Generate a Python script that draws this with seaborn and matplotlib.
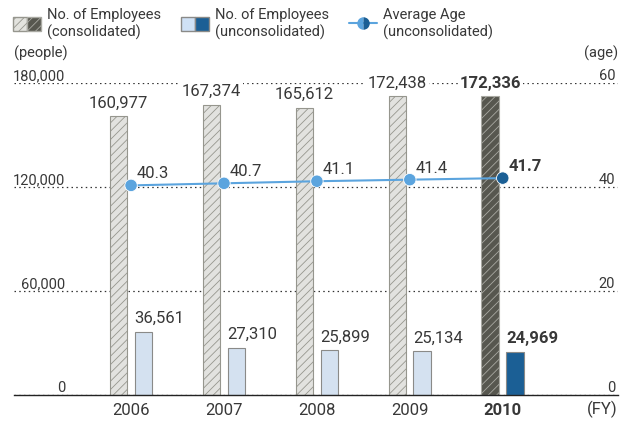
import numpy as np
import pandas as pd
import matplotlib.pyplot as plt
import seaborn as sns
from matplotlib.patches import Patch
from matplotlib.lines import Line2D
from matplotlib.legend_handler import HandlerTuple

# ---- data ----
years = ["2006", "2007", "2008", "2009", "2010"]
consolidated = [160977, 167374, 165612, 172438, 172336]
unconsolidated = [36561, 27310, 25899, 25134, 24969]
avg_age = [40.3, 40.7, 41.1, 41.4, 41.7]
people_ticks = [0, 60000, 120000, 180000]
age_ticks = [0, 20, 40, 60]

TXT = '#383838'
LIGHT_GRAY = '#e3e3de'
DARK_GRAY = '#57574f'
LIGHT_BLUE = '#cfe1f5'
DARK_BLUE = '#1b5f95'
LINE_BLUE = '#5ba4de'

sns.set_style('white')
plt.rcParams['font.family'] = ['Roboto', 'DejaVu Sans']
plt.rcParams['hatch.linewidth'] = 0.6

df = pd.DataFrame({
    'year': years * 2,
    'kind': ['cons'] * 5 + ['uncons'] * 5,
    'value': consolidated + unconsolidated,
})

fig = plt.figure(figsize=(6.28, 4.21), dpi=100)
ax = fig.add_axes([0.0223, 0.0618, 0.9617, 0.7412])

sns.barplot(data=df, x='year', y='value', hue='kind', order=years,
            palette=[LIGHT_GRAY, LIGHT_BLUE], width=0.536, gap=0.29,
            legend=False, ax=ax)

cons_bars = ax.containers[0]
uncons_bars = ax.containers[1]
for i, p in enumerate(cons_bars):
    p.set_hatch('////')
    p.set_edgecolor('#96968e')
    p.set_linewidth(0.8)
    if i == len(years) - 1:
        p.set_facecolor(DARK_GRAY)
        p.set_edgecolor('#a9a9a2')
for i, p in enumerate(uncons_bars):
    p.set_edgecolor('#8a8a88')
    p.set_linewidth(0.8)
    if i == len(years) - 1:
        p.set_facecolor(DARK_BLUE)

# value labels
for i, (p, v) in enumerate(zip(cons_bars, consolidated)):
    bold = i == len(years) - 1
    ax.annotate(f'{v:,}', (p.get_x() + p.get_width() / 2, p.get_height()),
                xytext=(0, 4), textcoords='offset points', ha='center', va='bottom',
                fontsize=12, color=TXT, fontweight='bold' if bold else 'normal',
                bbox=dict(boxstyle='square,pad=0.1', fc='white', ec='none'),
                annotation_clip=False)
for i, (p, v) in enumerate(zip(uncons_bars, unconsolidated)):
    bold = i == len(years) - 1
    ax.annotate(f'{v:,}', (p.get_x(), p.get_height()),
                xytext=(0, 4), textcoords='offset points', ha='left', va='bottom',
                fontsize=12, color=TXT, fontweight='bold' if bold else 'normal')

ax.set_ylim(0, 180000)
ax.set_xlim(-1.26, 5.24)
ax.set_yticks(people_ticks)
ax.set_yticklabels([f'{t:,}' for t in people_ticks])
ax.yaxis.grid(True, linestyle=(0, (1.2, 2.6)), color='#333333', linewidth=0.9)
ax.set_axisbelow(True)
ax.tick_params(axis='y', length=0, pad=-37, labelsize=10.5, labelcolor=TXT)
for lab in ax.get_yticklabels():
    lab.set_va('bottom')
ax.tick_params(axis='x', length=0, pad=6, labelsize=12, labelcolor=TXT)
ax.get_xticklabels()[-1].set_fontweight('bold')
for s in ['left', 'right', 'top']:
    ax.spines[s].set_visible(False)
ax.spines['bottom'].set_color('#222222')
ax.spines['bottom'].set_linewidth(1.0)

ax.set_ylabel('(people)', rotation=0, ha='left', va='bottom', fontsize=10.5, color=TXT)
ax.yaxis.set_label_coords(0.0, 1.07)
ax.set_xlabel('(FY)', ha='right', va='top', fontsize=12, color=TXT)
ax.xaxis.set_label_coords(1.0, -0.02)

# age line on twin axis
ax2 = ax.twinx()
xpos = np.arange(len(years))
sns.lineplot(x=xpos, y=avg_age, color=LINE_BLUE, linewidth=1.5, ax=ax2)
sns.scatterplot(x=xpos, y=avg_age, hue=years, palette=[LINE_BLUE] * 4 + [DARK_BLUE],
                s=80, edgecolor='white', linewidth=0.6, legend=False, ax=ax2, zorder=5)
for i, a in enumerate(avg_age):
    bold = i == len(years) - 1
    ax2.annotate(f'{a:.1f}', (xpos[i], a), xytext=(4, 3), textcoords='offset points',
                 ha='left', va='bottom', fontsize=12, color=TXT,
                 fontweight='bold' if bold else 'normal')
ax2.set_ylim(0, 60)
ax2.set_yticks(age_ticks)
ax2.tick_params(axis='y', length=0, pad=-2, labelsize=10.5, labelcolor=TXT)
for lab in ax2.get_yticklabels():
    lab.set_ha('right')
    lab.set_va('bottom')
for s in ['left', 'right', 'top', 'bottom']:
    ax2.spines[s].set_visible(False)
ax2.set_ylabel('(age)', rotation=0, ha='right', va='bottom', fontsize=10.5, color=TXT)
ax2.yaxis.set_label_coords(1.0, 1.07)

# legend
h_cons = (Patch(facecolor=LIGHT_GRAY, edgecolor='#96968e', hatch='////'),
          Patch(facecolor=DARK_GRAY, edgecolor='#a9a9a2', hatch='////'))
h_unc = (Patch(facecolor=LIGHT_BLUE, edgecolor='#8a8a88'),
         Patch(facecolor=DARK_BLUE, edgecolor='#8a8a88'))
h_age = Line2D([], [], color=LINE_BLUE, marker='o', markersize=9, fillstyle='left',
               markerfacecolor=LINE_BLUE, markerfacecoloralt=DARK_BLUE,
               markeredgecolor='none', linewidth=1.5)
fig.legend([h_cons, h_unc, h_age],
           ['No. of Employees\n(consolidated)', 'No. of Employees\n(unconsolidated)',
            'Average Age\n(unconsolidated)'],
           handler_map={tuple: HandlerTuple(ndivide=None, pad=0)},
           loc='upper left', bbox_to_anchor=(0.012, 0.995), ncol=3, frameon=False,
           fontsize=10.5, labelcolor=TXT, handlelength=1.9, handleheight=1.1,
           handletextpad=0.4, columnspacing=1.4, borderaxespad=0, labelspacing=0)

fig.savefig('out.png', dpi=100)
